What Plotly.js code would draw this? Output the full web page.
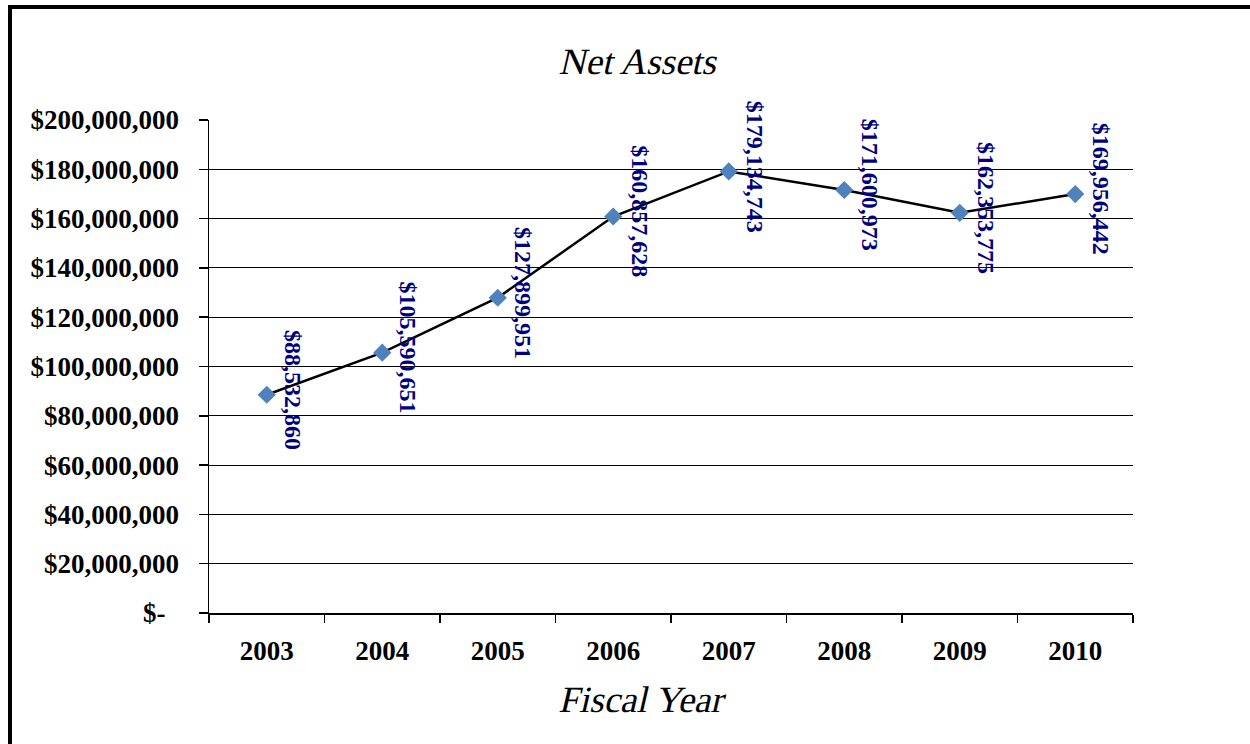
<!DOCTYPE html>
<html>
<head>
<meta charset="utf-8">
<script src="https://cdn.plot.ly/plotly-3.0.1.min.js"></script>
<style>
  html, body { margin: 0; padding: 0; background: #ffffff; overflow: hidden; }
  #wrap { position: relative; width: 1250px; height: 744px; }
  #chart { position: absolute; left: 0; top: 0; width: 1250px; height: 744px; }
  #frame { position: absolute; left: 8px; top: 5px; width: 1300px; height: 800px;
           border-left: 4px solid #000; border-top: 4px solid #000; pointer-events: none; }
  /* slanted serif for the headings (no italic face of the serif is installed) */
  .slant { font-style: normal !important; transform-box: fill-box; transform-origin: center;
           transform: skewX(-13deg); }
</style>
</head>
<body>
<div id="wrap">
  <div id="chart"></div>
  <div id="frame"></div>
</div>
<script>
// Net assets by fiscal year
const fiscalYears = ['2003', '2004', '2005', '2006', '2007', '2008', '2009', '2010'];
const netAssets = [88532860, 105590651, 127899951, 160857628, 179134743, 171600973, 162353775, 169956442];

const yTickValues = [0, 20000000, 40000000, 60000000, 80000000, 100000000,
                     120000000, 140000000, 160000000, 180000000, 200000000];
const yTickLabels = ['$-\u00a0\u00a0', '$20,000,000', '$40,000,000', '$60,000,000', '$80,000,000',
                     '$100,000,000', '$120,000,000', '$140,000,000', '$160,000,000',
                     '$180,000,000', '$200,000,000'];

const chartTitle = 'Net Assets';
const xTitle = 'Fiscal Year';

const serif = 'Liberation Serif';

function dollars(v) {
  return '$' + v.toLocaleString('en-US');
}

const trace = {
  type: 'scatter',
  mode: 'lines+markers',
  x: fiscalYears,
  y: netAssets,
  line: { color: '#000000', width: 2.5 },
  marker: { symbol: 'diamond', size: 14, color: '#4F81BD' },
  hoverinfo: 'skip',
  cliponaxis: false
};

// value labels, rotated to read downward beside each point (x given as category index)
const valueLabels = fiscalYears.map((yr, i) => ({
  x: i,
  y: netAssets[i],
  xref: 'x',
  yref: 'y',
  text: dollars(netAssets[i]),
  showarrow: false,
  textangle: 90,
  xshift: 26,
  yshift: 5,
  font: { family: serif, size: 24, color: '#000080', weight: 'bold' }
}));

valueLabels.push({
  text: xTitle,
  xref: 'paper', yref: 'paper',
  x: (643 - 209) / 924, y: -0.175,
  xanchor: 'center', yanchor: 'middle',
  showarrow: false,
  font: { family: serif, size: 37, color: '#000000' }
});

const layout = {
  width: 1250,
  height: 744,
  paper_bgcolor: '#ffffff',
  plot_bgcolor: '#ffffff',
  margin: { l: 209, r: 117, t: 120, b: 131 },
  showlegend: false,
  title: {
    text: chartTitle,
    x: 640 / 1250,
    xanchor: 'center',
    xref: 'container',
    y: 1 - 61 / 744,
    yanchor: 'middle',
    yref: 'container',
    font: { family: serif, size: 37, color: '#000000' }
  },
  xaxis: {
    type: 'category',
    range: [-0.5, 7.5],
    showline: true,
    linecolor: '#000000',
    linewidth: 1.5,
    showgrid: false,
    zeroline: false,
    ticks: 'outside',
    tickson: 'boundaries',
    ticklen: 8,
    tickwidth: 1.5,
    tickcolor: '#000000',
    ticklabelstandoff: 13,
    tickfont: { family: serif, size: 27, color: '#000000', weight: 'bold' },
    fixedrange: true
  },
  yaxis: {
    range: [0, 200000000],
    tickmode: 'array',
    tickvals: yTickValues,
    ticktext: yTickLabels,
    showline: true,
    linecolor: '#000000',
    linewidth: 1.5,
    showgrid: true,
    gridcolor: '#000000',
    gridwidth: 1,
    zeroline: false,
    ticks: 'outside',
    ticklen: 9,
    tickwidth: 1.5,
    tickcolor: '#000000',
    ticklabelstandoff: 14,
    tickfont: { family: serif, size: 27, color: '#000000', weight: 'bold' },
    fixedrange: true
  },
  annotations: valueLabels
};

Plotly.newPlot('chart', [trace], layout, { displayModeBar: false, staticPlot: true }).then(gd => {
  gd.querySelectorAll('text').forEach(t => {
    if (t.textContent === chartTitle || t.textContent === xTitle) t.classList.add('slant');
  });
});
</script>
</body>
</html>
